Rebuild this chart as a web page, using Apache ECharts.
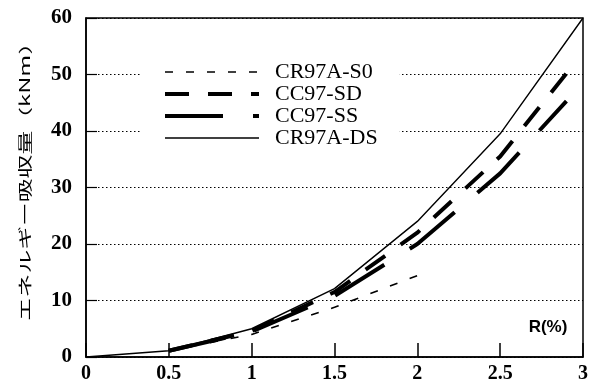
<!DOCTYPE html>
<html><head><meta charset="utf-8">
<script src="https://cdn.jsdelivr.net/npm/echarts@6/dist/echarts.min.js"></script>
<style>html,body{margin:0;padding:0;background:#fff}#c{width:601px;height:388px}</style>
</head><body><div id="c"></div>
<script>
const seriesNames = ['CR97A-S0', 'CC97-SD', 'CC97-SS', 'CR97A-DS'];
const xTicks = [0, 0.5, 1, 1.5, 2, 2.5, 3];
const yTicks = [0, 10, 20, 30, 40, 50, 60];
// R(%) and energy (kNm)
const r_S0 = [0.5, 1.0, 1.5, 2.0];
const e_S0 = [1.1, 4.0, 8.8, 14.4];
const r_SD = [0.5, 1.0, 1.5, 2.0, 2.5, 2.9];
const e_SD = [1.1, 4.6, 11.5, 22.0, 35.5, 50.2];
const r_SS = [0.5, 1.0, 1.5, 2.0, 2.5, 2.9];
const e_SS = [1.1, 4.5, 10.8, 20.0, 32.5, 45.3];
const r_DS = [0, 0.5, 1.0, 1.5, 2.0, 2.5, 3.0];
const e_DS = [0, 1.1, 5.0, 12.1, 24.0, 39.5, 60.0];

const pairs = (xs, ys) => xs.map((x, i) => [x, ys[i]]);
const serif = '"Liberation Serif", "Times New Roman", serif';
const styles = [
  {color: '#000', width: 1.6, type: [8, 13]},
  {color: '#000', width: 4, type: [24, 19]},
  {color: '#000', width: 4, type: [58, 30]},
  {color: '#000', width: 1.4, type: 'solid'}
];

const chart = echarts.init(document.getElementById('c'), null, {renderer: 'canvas'});
chart.setOption({
  animation: false,
  backgroundColor: '#fff',
  grid: {left: 86, right: 18, top: 18, bottom: 31, show: true, borderColor: '#000', borderWidth: 1.5, backgroundColor: 'transparent'},
  xAxis: {
    type: 'value', min: 0, max: 3, interval: 0.5,
    axisLine: {show: true, lineStyle: {color: '#000', width: 1.5}},
    axisTick: {show: true, inside: true, length: 14, lineStyle: {color: '#000', width: 1.5}},
    axisLabel: {color: '#000', fontFamily: serif, fontWeight: 'bold', fontSize: 20, margin: 7,
      formatter: v => xTicks.includes(v) ? String(v) : ''},
    splitLine: {show: false}
  },
  yAxis: {
    type: 'value', min: 0, max: 60, interval: 10,
    axisLine: {show: true, lineStyle: {color: '#000', width: 1.5}},
    axisTick: {show: true, inside: true, length: 11, lineStyle: {color: '#000', width: 1.2}},
    axisLabel: {color: '#000', fontFamily: serif, fontWeight: 'bold', fontSize: 21, margin: 14,
      formatter: v => yTicks.includes(v) ? String(v) : ''},
    splitLine: {show: true, lineStyle: {color: '#000', width: 1, type: [1.5, 2.5]}}
  },
  legend: {
    orient: 'vertical', left: 140, top: 56,
    padding: [5, 22, 5, 23],
    backgroundColor: '#fff',
    itemWidth: 94, itemHeight: 14, itemGap: 0,
    data: seriesNames.map((n, i) => ({name: n, lineStyle: styles[i]})),
    itemStyle: {opacity: 0, color: 'transparent', borderWidth: 0},
    textStyle: {color: '#000', fontFamily: serif, fontSize: 22, lineHeight: 21, padding: [0, 0, 0, 11]}
  },
  graphic: [
    {type: 'text', x: 25, y: 176, rotation: Math.PI / 2, scaleX: 1.7, scaleY: 1,
      style: {text: 'エネルギー吸収量（kNm）', font: '14px "Noto Sans CJK JP"', fill: '#000', textAlign: 'center', textVerticalAlign: 'middle'}},
    {type: 'text', x: 548, y: 327,
      style: {text: 'R(%)', font: 'bold 17px "Liberation Sans", Arial, sans-serif', fill: '#000', textAlign: 'center', textVerticalAlign: 'middle'}}
  ],
  series: [
    {name: seriesNames[0], type: 'line', symbol: 'none', data: pairs(r_S0, e_S0), lineStyle: styles[0]},
    {name: seriesNames[1], type: 'line', symbol: 'none', data: pairs(r_SD, e_SD), lineStyle: styles[1]},
    {name: seriesNames[2], type: 'line', symbol: 'none', data: pairs(r_SS, e_SS), lineStyle: styles[2]},
    {name: seriesNames[3], type: 'line', symbol: 'none', data: pairs(r_DS, e_DS), lineStyle: styles[3]}
  ]
});
</script></body></html>
